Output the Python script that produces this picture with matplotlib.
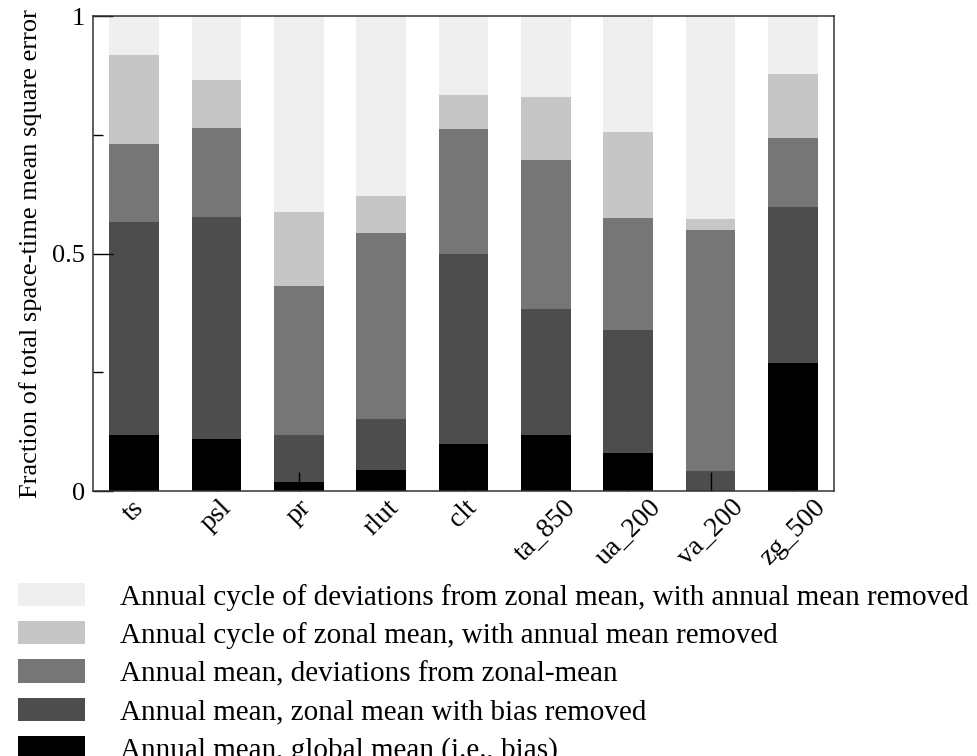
import numpy as np
import matplotlib
matplotlib.use("Agg")
import matplotlib.pyplot as plt
from matplotlib.patches import Patch

# ------------------------------------------
# data (fraction of total error, per component)
# ------------------------------------------
variables = ["ts", "psl", "pr", "rlut", "clt", "ta_850", "ua_200", "va_200", "zg_500"]

bias       = [0.117, 0.110, 0.020, 0.045, 0.099, 0.117, 0.080, 0.000, 0.270]
zonal_mean = [0.450, 0.467, 0.097, 0.106, 0.400, 0.267, 0.258, 0.043, 0.327]
zonal_dev  = [0.163, 0.187, 0.314, 0.392, 0.264, 0.312, 0.236, 0.507, 0.147]
cycle_zm   = [0.189, 0.102, 0.156, 0.079, 0.071, 0.133, 0.182, 0.023, 0.133]
cycle_dev  = [0.081, 0.134, 0.413, 0.378, 0.166, 0.171, 0.244, 0.427, 0.123]

labels = [
    "Annual mean, global mean (i.e., bias)",
    "Annual mean, zonal mean with bias removed",
    "Annual mean, deviations from zonal-mean",
    "Annual cycle of zonal mean, with annual mean removed",
    "Annual cycle of deviations from zonal mean, with annual mean removed",
]
colors = ["#000000", "#4d4d4d", "#767676", "#c6c6c6", "#efefef"]

plt.rcParams["font.family"] = ["Liberation Serif", "DejaVu Serif"]

fig = plt.figure(figsize=(9.78, 7.56), dpi=100)
ax = fig.add_axes([0.0951, 0.3505, 0.7577, 0.6283])

x = np.arange(len(variables))
bottom = np.zeros(len(variables))
for vals, col in zip([bias, zonal_mean, zonal_dev, cycle_zm, cycle_dev], colors):
    ax.bar(x, vals, width=0.6, bottom=bottom, color=col, linewidth=0)
    bottom += np.array(vals)

ax.set_xlim(-0.5, len(variables) - 0.5)
ax.set_ylim(0, 1)
ax.set_yticks([0, 0.5, 1])
ax.set_yticklabels(["0", "0.5", "1"])
ax.set_yticks([0.25, 0.75], minor=True)
ax.tick_params(axis="y", which="major", direction="in", length=14.5, width=1.0,
               labelsize=19, pad=6)
ax.tick_params(axis="y", which="minor", direction="in", length=7.5, width=1.0)
ax.set_xticks(x)
ax.set_xticklabels(variables, rotation=45, ha="center", va="top")
ax.tick_params(axis="x", direction="in", length=14, width=1.0, labelsize=20, pad=3)

ax.set_ylabel("Fraction of total space-time mean square error", fontsize=19, labelpad=7)

for sp in ax.spines.values():
    sp.set_linewidth(1.1)
    sp.set_color("#333333")

handles = [Patch(facecolor=c, edgecolor="none") for c in colors]
fig.legend(handles[::-1], labels[::-1], loc="upper left",
           bbox_to_anchor=(0.018, 0.229), frameon=False, fontsize=21,
           handlelength=2.3, handleheight=0.85, handletextpad=1.22,
           labelspacing=0.36, borderaxespad=0, borderpad=0)

fig.savefig("out.png", dpi=100)
